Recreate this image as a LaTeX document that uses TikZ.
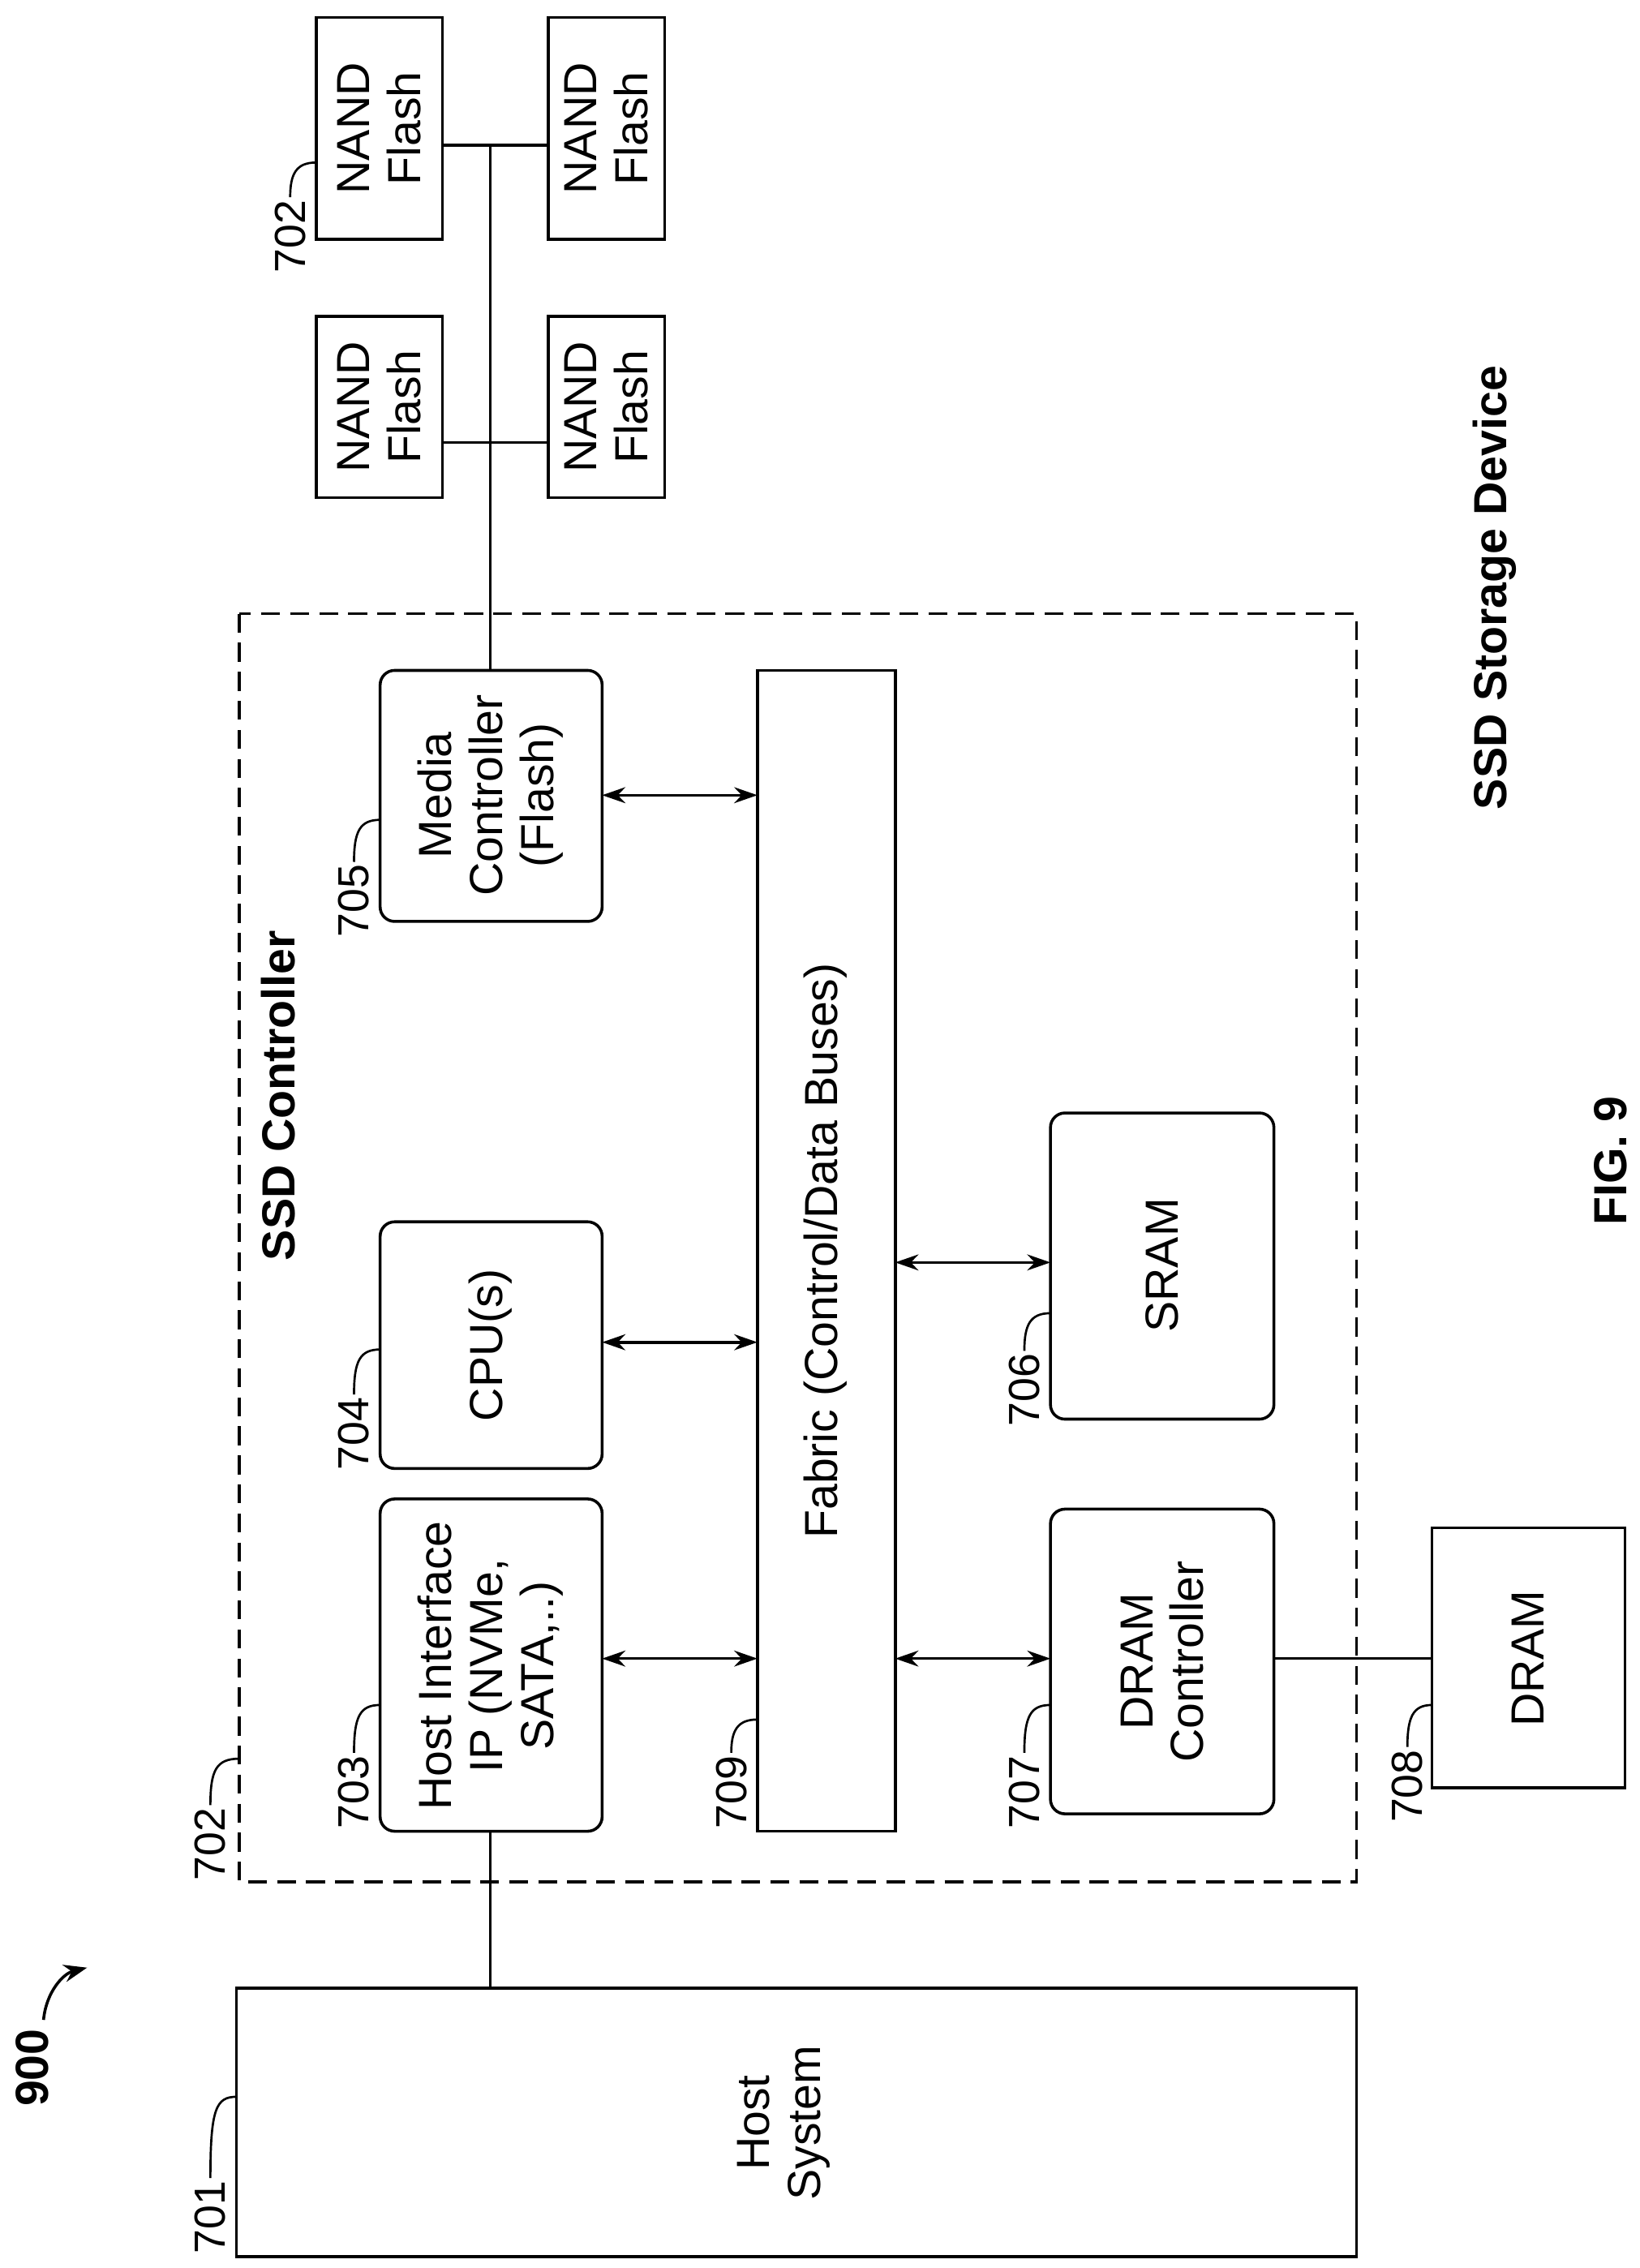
\documentclass[tikz,border=0pt]{standalone}
\usepackage{fontspec}
\setmainfont{Liberation Sans}
\usetikzlibrary{arrows.meta}
\begin{document}
\begin{tikzpicture}[x=1pt,y=-1pt,line width=2pt,
 box/.style={draw,rounded corners=10pt},
 sq/.style={draw},
 txt/.style={rotate=90,align=center,font=\fontsize{32}{35}\selectfont},
 lab/.style={rotate=90,font=\fontsize{30}{34}\selectfont,inner sep=1pt},
 bold/.style={rotate=90,font=\bfseries\fontsize{32}{36}\selectfont},
 arr/.style={{Stealth[length=16pt,width=11pt]}-{Stealth[length=16pt,width=11pt]}}]
\useasboundingbox (0,0) rectangle (1130,1563);
% host
\draw[sq] (163,1370) rectangle (935,1555);
\node[txt] (host) at (540,1463) {Host\\System};
\coordinate (hostT) at (338,1370);
% dashed controller
\draw[dash pattern=on 13pt off 7pt] (165,423) rectangle (935,1297);
\node[bold] (ssdc) at (192,755) {SSD Controller};
% boxes
\draw[box] (262,1033) rectangle (415,1262); \node[txt] (hi) at (338,1148) {Host Interface\\IP (NVMe,\\SATA,..)};
\draw[box] (262,842) rectangle (415,1012); \node[txt] (cpu) at (338,927) {CPU(s)};
\draw[box] (262,462) rectangle (415,635); \node[txt] (mc) at (338,548) {Media\\Controller\\(Flash)};
\draw[sq] (522,462) rectangle (617,1262); \node[txt] (fab) at (569,862) {Fabric (Control/Data Buses)};
\draw[box] (724,1040) rectangle (878,1250); \node[txt] (dc) at (801,1145) {DRAM\\Controller};
\draw[box] (724,767) rectangle (878,978); \node[txt] (sram) at (801,872) {SRAM};
\draw[sq] (987,1053) rectangle (1120,1232); \node[txt] (dram) at (1053,1143) {DRAM};
% NAND
\foreach \n/\xa/\xb/\ya/\yb in {n1/218/305/12/165,n2/378/458/12/165,n3/218/305/218/343,n4/378/458/218/343}{
 \draw[sq] (\xa,\ya) rectangle (\xb,\yb);
 \node[txt] (\n) at ({(\xa+\xb)/2},{(\ya+\yb)/2}) {NAND\\Flash};}
% lines
\coordinate (mcT) at (338,462); \coordinate (busT) at (338,100);
\draw (mcT) -- (busT);
\draw (305,100) -- (378,100);
\draw (305,305) -- (378,305);
\draw (hostT) -- (338,1262);
\draw (878,1143) -- (987,1143);
% arrows
\draw[arr] (415,548) -- (522,548);
\draw[arr] (415,925) -- (522,925);
\draw[arr] (415,1143) -- (522,1143);
\draw[arr] (617,870) -- (724,870);
\draw[arr] (617,1143) -- (724,1143);
% labels with leaders
\foreach \t/\x/\y/\ex/\ey in {701/145/1555/163/1445,702/145/1298/165/1212,703/244/1262/262/1175,704/244/1015/262/930,705/244/648/262/565,709/504/1262/522/1185,707/706/1262/724/1175,706/706/985/724/905,708/970/1258/987/1175,702/200/190/218/112}{
 \node[lab,anchor=west] (l\t\x) at (\x,\y) {\t};
 \draw[line width=1.5pt] (l\t\x.east) .. controls (\x,\ey+8) and (\x+4,\ey) .. (\ex,\ey);}
% 900
\node[bold,anchor=center] (n900) at (22,1425) {900};
\coordinate (a900) at (60,1356);
\draw[line width=2pt,-{Stealth[length=16pt,width=12pt]}] (30,1392) .. controls (32,1372) and (44,1360) .. (a900);
\node[bold] (sd) at (1030,405) {SSD Storage Device};
\node[bold] (fig) at (1110,800) {FIG. 9};
\end{tikzpicture}
\end{document}
